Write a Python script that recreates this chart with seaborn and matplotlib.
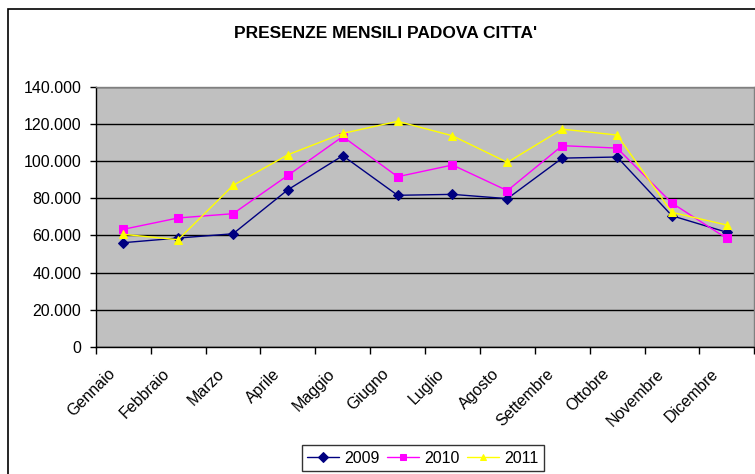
import pandas as pd
import matplotlib
matplotlib.use("Agg")
import matplotlib.pyplot as plt
import matplotlib.ticker as mticker
import matplotlib.transforms as mtransforms
from matplotlib.patches import Rectangle
import seaborn as sns

# Dati: presenze mensili
mesi = ["Gennaio", "Febbraio", "Marzo", "Aprile", "Maggio", "Giugno",
        "Luglio", "Agosto", "Settembre", "Ottobre", "Novembre", "Dicembre"]
anni = ["2009", "2010", "2011"]
pres_2009 = [56100, 58600, 60900, 84600, 102900, 81600, 82100, 79800, 101600, 102200, 70600, 61700]
pres_2010 = [63300, 69400, 71700, 92300, 113200, 91600, 97900, 84100, 108300, 107000, 77400, 58400]
pres_2011 = [60600, 57700, 86900, 103400, 114900, 121400, 113600, 99300, 117200, 114000, 72400, 65600]

df = pd.DataFrame({
    "Mese": list(range(len(mesi))) * 3,
    "Anno": [a for a in anni for _ in mesi],
    "Presenze": pres_2009 + pres_2010 + pres_2011,
})

sns.set_theme(style="white")
plt.rcParams["font.family"] = ["Liberation Sans", "DejaVu Sans"]
plt.rcParams["text.color"] = "black"
plt.rcParams["xtick.color"] = "black"
plt.rcParams["ytick.color"] = "black"

fig = plt.figure(figsize=(7.55, 4.74), dpi=100)
ax = fig.add_axes([0.127, 0.268, 0.872, 0.549])
ax.set_facecolor("#C0C0C0")

colori = {"2009": "#000080", "2010": "#FF00FF", "2011": "#FFFF00"}
marker = {"2009": "D", "2010": "s", "2011": "^"}
sns.lineplot(data=df, x="Mese", y="Presenze", hue="Anno", style="Anno",
             palette=colori, markers=marker, dashes=False, markersize=6,
             linewidth=1, ax=ax, legend=True)
for line in ax.lines:
    line.set_markeredgecolor(line.get_color())
    if line.get_marker() == "D":
        line.set_markersize(5)

ax.set_xlim(-0.5, 11.5)
ax.set_ylim(0, 140000)
ax.yaxis.set_major_locator(mticker.MultipleLocator(20000))
ax.yaxis.set_major_formatter(mticker.FuncFormatter(lambda v, p: f"{v:,.0f}".replace(",", ".")))
ax.grid(axis="y", color="black", linewidth=1)
ax.set_axisbelow(True)

ax.set_xticks(range(len(mesi)))
ax.set_xticklabels(mesi, rotation=45, ha="right", rotation_mode="anchor", fontsize=11.5)
ax.set_xticks([i - 0.5 for i in range(len(mesi) + 1)], minor=True)
ax.tick_params(axis="x", which="major", length=0, pad=8)
ax.tick_params(axis="x", which="minor", length=5, width=1, color="black", direction="out", bottom=True)
ax.tick_params(axis="y", length=4.5, width=1, color="black", direction="out", left=True,
               labelsize=11.5, pad=6)
# sposta le etichette dei mesi come in Excel
sposta = mtransforms.ScaledTranslation(-0.16, -0.08, fig.dpi_scale_trans)
for lab in ax.get_xticklabels():
    lab.set_transform(lab.get_transform() + sposta)
ax.set_xlabel("")
ax.set_ylabel("")

for s in ["top", "right"]:
    ax.spines[s].set_color("#808080")
for s in ["left", "bottom"]:
    ax.spines[s].set_color("black")
for s in ax.spines.values():
    s.set_linewidth(1)

fig.text(0.511, 0.929, "PRESENZE MENSILI PADOVA CITTA'", ha="center", va="center",
         fontsize=12.5, fontweight="bold")

handles, labels = ax.get_legend_handles_labels()
ax.get_legend().remove()
leg = fig.legend(handles, labels, loc="upper center", bbox_to_anchor=(0.56, 0.078),
                 ncol=3, fontsize=11.5, frameon=True, fancybox=False, handlelength=2.0,
                 columnspacing=0.5, handletextpad=0.3, borderpad=0.35)
leg.get_frame().set_edgecolor("black")
leg.get_frame().set_linewidth(1)
for h in leg.legend_handles:
    h.set_markersize(5)

# cornice esterna del grafico
fig.patches.append(Rectangle((8 / 755, -0.1), 1.0, 1.1 - 9 / 474, transform=fig.transFigure,
                             fill=False, edgecolor="black", linewidth=1.2))

fig.savefig("out.png", dpi=100, facecolor="white")
